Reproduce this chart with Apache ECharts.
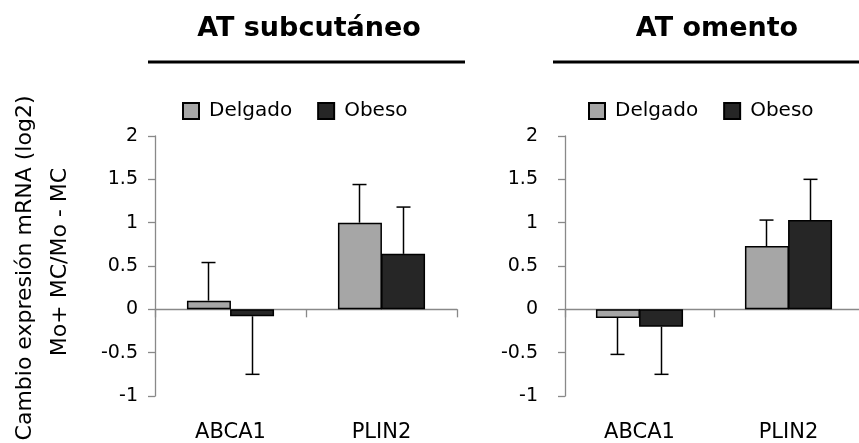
<!DOCTYPE html>
<html>
<head>
<meta charset="utf-8">
<script src="https://cdn.jsdelivr.net/npm/echarts@6.0.0/dist/echarts.min.js"></script>
<style>
  html, body { margin: 0; padding: 0; background: #fff; }
  #chart { width: 859px; height: 443px; }
</style>
</head>
<body>
<div id="chart"></div>
<script>
// categories and values (log2 fold change)
const genes = ['ABCA1', 'PLIN2'];
const yTicks = { min: -1, max: 2, step: 0.5 };

const subDelgado = [0.10, 1.00];
const subDelgadoErr = [0.44, 0.44];
const subObeso = [-0.08, 0.64];
const subObesoErr = [0.67, 0.54];

const omDelgado = [-0.10, 0.73];
const omDelgadoErr = [0.42, 0.30];
const omObeso = [-0.20, 1.03];
const omObesoErr = [0.55, 0.47];

const FONT = '"DejaVu Sans", sans-serif';
const GREY_AXIS = '#898989';
const BAR_W = 44;
const CAP = 7;

function barSeries(name, values, color, xi, yi) {
    return {
        name: name,
        type: 'bar',
        xAxisIndex: xi,
        yAxisIndex: yi,
        data: values,
        barWidth: BAR_W,
        barGap: '-2%',
        itemStyle: { color: color, borderColor: '#000', borderWidth: 1.5 },
        emphasis: { disabled: true },
        z: 2,
    };
}

// one-sided error bars, drawn away from zero
function errSeries(values, errs, side, xi, yi) {
    return {
        type: 'custom',
        xAxisIndex: xi,
        yAxisIndex: yi,
        silent: true,
        z: 3,
        data: values.map((v, i) => [i, v, errs[i]]),
        renderItem: (params, api) => {
            const i = api.value(0);
            const v = api.value(1);
            const e = api.value(2);
            const end = v >= 0 ? v + e : v - e;
            const p0 = api.coord([i, v]);
            const p1 = api.coord([i, end]);
            const x = p0[0] + side * BAR_W / 2;
            const st = { stroke: '#000', lineWidth: 1.5 };
            return {
                type: 'group',
                children: [
                    { type: 'line', shape: { x1: x, y1: p0[1], x2: x, y2: p1[1] }, style: st },
                    { type: 'line', shape: { x1: x - CAP, y1: p1[1], x2: x + CAP, y2: p1[1] }, style: st },
                ],
            };
        },
    };
}

function labelAxis(gi) {
    return {
        type: 'category', gridIndex: gi, data: genes, position: 'bottom',
        axisLine: { show: false, onZero: false },
        axisTick: { show: false },
        axisLabel: { margin: 26, color: '#000', fontSize: 21, fontFamily: FONT },
    };
}

function zeroAxis(gi) {
    return {
        type: 'category', gridIndex: gi, data: genes, position: 'top',
        axisLine: { show: true, onZero: true, lineStyle: { color: GREY_AXIS, width: 1.3 } },
        axisTick: { show: true, inside: true, length: 8, lineStyle: { color: GREY_AXIS, width: 1.3 } },
        axisLabel: { show: false },
    };
}

function valueAxis(gi, margin) {
    return {
        type: 'value', gridIndex: gi,
        min: yTicks.min, max: yTicks.max, interval: yTicks.step,
        axisLine: { show: true, lineStyle: { color: GREY_AXIS, width: 1.3 } },
        axisTick: { show: true, length: 7, lineStyle: { color: GREY_AXIS, width: 1.3 } },
        splitLine: { show: false },
        axisLabel: { margin: margin, color: '#000', fontSize: 19, fontFamily: FONT },
    };
}

function legendAt(left) {
    return {
        data: ['Delgado', 'Obeso'],
        left: left, top: 101,
        padding: 0,
        icon: 'rect',
        itemWidth: 16, itemHeight: 16, itemGap: 25,
        selectedMode: false,
        textStyle: { fontSize: 20, fontFamily: FONT, color: '#000', padding: [0, 0, 0, 5] },
    };
}

const chart = echarts.init(document.getElementById('chart'));
chart.setOption({
    animation: false,
    backgroundColor: '#fff',
    legend: [legendAt(182), legendAt(588)],
    grid: [
        { left: 155, top: 136, width: 302, height: 260, outerBoundsMode: 'none', containLabel: false },
        { left: 565, top: 136, width: 298, height: 260, outerBoundsMode: 'none', containLabel: false },
    ],
    xAxis: [labelAxis(0), zeroAxis(0), labelAxis(1), zeroAxis(1)],
    yAxis: [valueAxis(0, 17), valueAxis(1, 27)],
    series: [
        barSeries('Delgado', subDelgado, '#a6a6a6', 0, 0),
        barSeries('Obeso', subObeso, '#262626', 0, 0),
        barSeries('Delgado', omDelgado, '#a6a6a6', 2, 1),
        barSeries('Obeso', omObeso, '#262626', 2, 1),
        errSeries(subDelgado, subDelgadoErr, -1, 0, 0),
        errSeries(subObeso, subObesoErr, 1, 0, 0),
        errSeries(omDelgado, omDelgadoErr, -1, 2, 1),
        errSeries(omObeso, omObesoErr, 1, 2, 1),
    ],
    graphic: [
        {
            type: 'text', x: 309, y: 29,
            style: { text: 'AT subcutáneo', fontSize: 27, fontWeight: 'bold', fontFamily: FONT, fill: '#000', align: 'center', verticalAlign: 'middle' },
        },
        {
            type: 'text', x: 717, y: 29,
            style: { text: 'AT omento', fontSize: 27, fontWeight: 'bold', fontFamily: FONT, fill: '#000', align: 'center', verticalAlign: 'middle' },
        },
        { type: 'line', shape: { x1: 148, y1: 62, x2: 465, y2: 62 }, style: { stroke: '#000', lineWidth: 3 } },
        { type: 'line', shape: { x1: 553, y1: 62, x2: 870, y2: 62 }, style: { stroke: '#000', lineWidth: 3 } },
        {
            type: 'text', x: 25, y: 268, rotation: Math.PI / 2,
            style: { text: 'Cambio expresión mRNA (log2)', fontSize: 22, fontFamily: FONT, fill: '#000', align: 'center', verticalAlign: 'middle' },
        },
        {
            type: 'text', x: 60, y: 262, rotation: Math.PI / 2,
            style: { text: 'Mo+ MC/Mo - MC', fontSize: 22, fontFamily: FONT, fill: '#000', align: 'center', verticalAlign: 'middle' },
        },
    ],
});
</script>
</body>
</html>
